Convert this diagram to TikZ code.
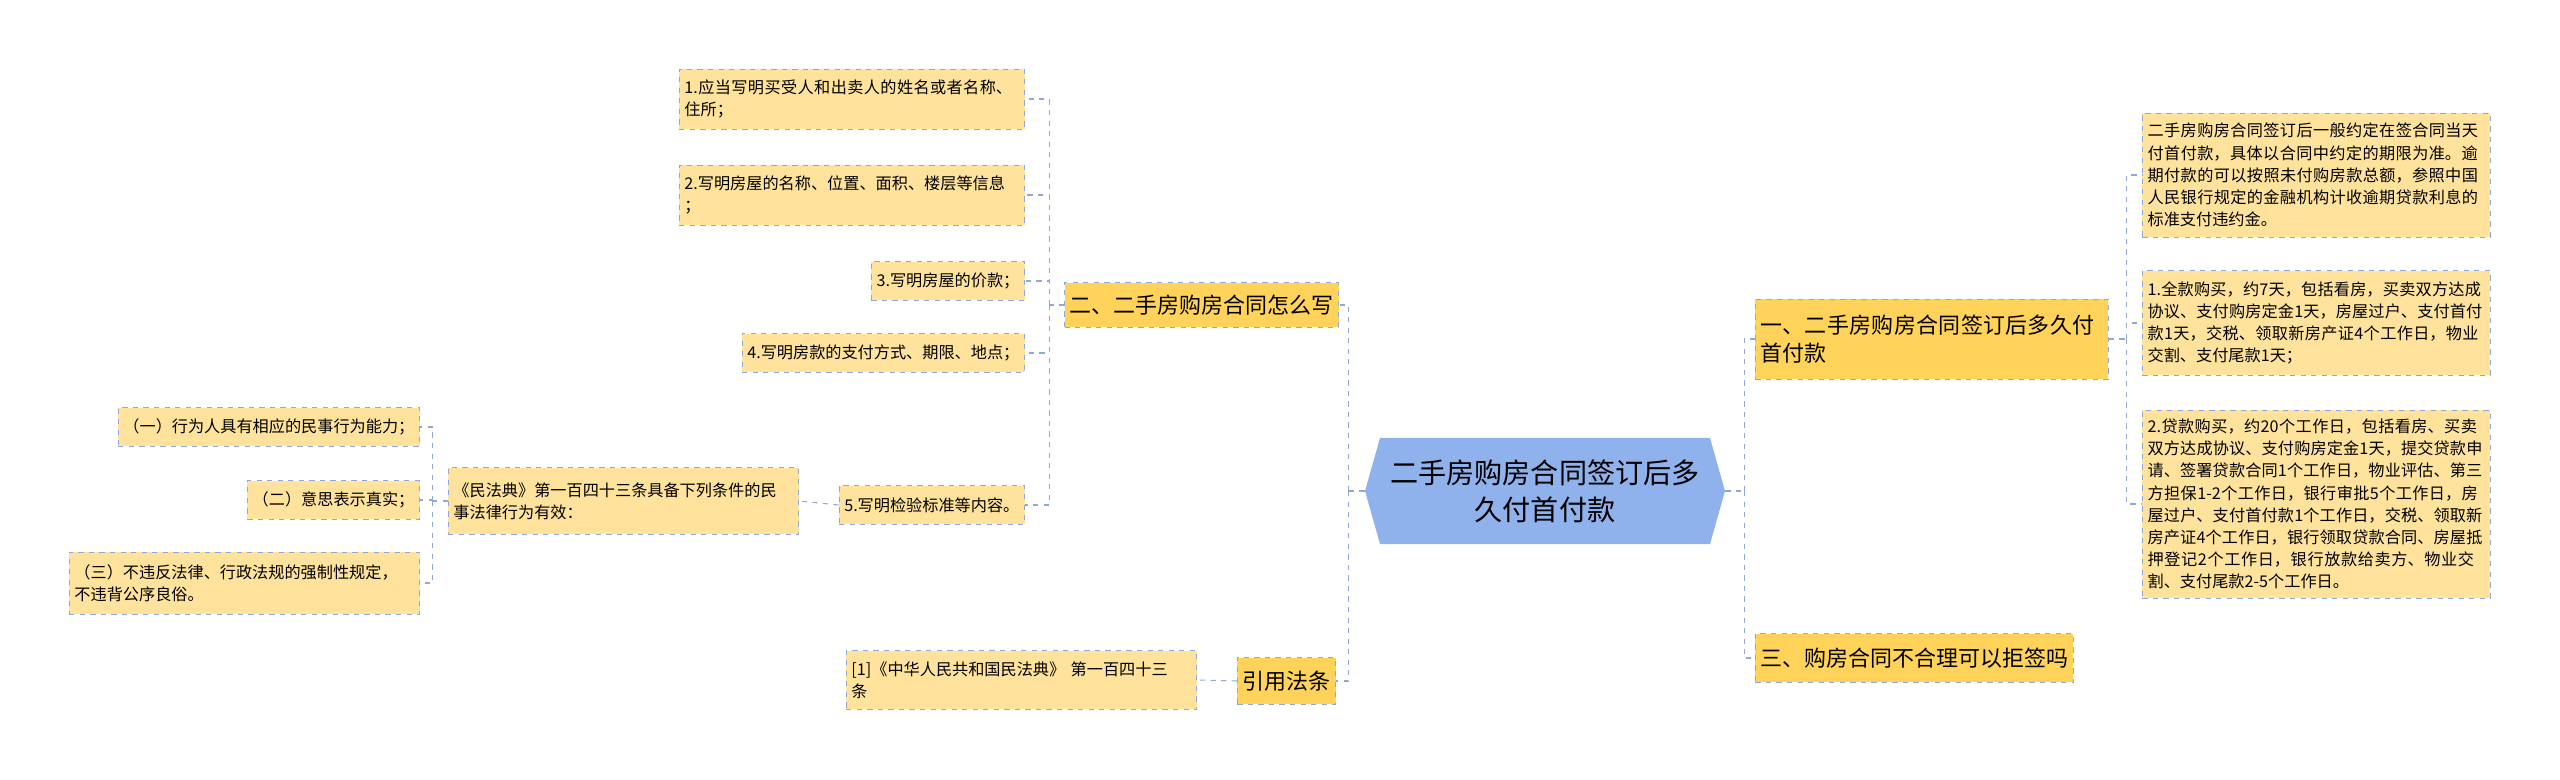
\documentclass[tikz,border=0pt]{standalone}
\usepackage{fontspec}
\setmainfont{Noto Sans CJK SC}
\XeTeXlinebreaklocale "zh"
\XeTeXlinebreakskip=0pt plus 1pt
\usetikzlibrary{positioning}
\definecolor{leaffill}{HTML}{FFE39C}
\definecolor{branchfill}{HTML}{FFD35A}
\definecolor{linkblue}{HTML}{8FA8D8}
\definecolor{rootfill}{HTML}{8FB2EC}
\tikzset{
leaf/.style={
  rectangle,dashed,
  draw=linkblue,
  fill=leaffill,
  inner xsep=3pt,
  font=\fontsize{9.2}{12.6}\selectfont,
  align=left
  },
branch/.style={
  leaf,
  fill=branchfill,
  font=\fontsize{12.5}{16}\selectfont
  },
link/.style={dashed,draw=linkblue,semithick}
}
\begin{document}
\begin{tikzpicture}[x=0.02cm,y=-0.02cm]
        \useasboundingbox (0,0) rectangle (2560,780);
        % root
        \node[minimum width=7.2cm,minimum height=2.12cm] at (1545,491) (root) {};
        \fill[rootfill] (1365,491) -- (1380,438) -- (1710,438) -- (1725,491) -- (1710,544) -- (1380,544) -- cycle;
        \node[align=center,font=\fontsize{16}{21}\selectfont] at (root) {二手房购房合同签订后多\\久付首付款};
        % right side
        \node[branch,text width=6.85cm,minimum height=1.6cm,anchor=west] at (1755,339) (b1) {一、二手房购房合同签订后多久付首付款};
        \node[branch,minimum height=0.98cm,anchor=west] at (1755,658) (b3) {三、购房合同不合理可以拒签吗};
        \node[leaf,text width=6.75cm,minimum height=2.48cm,anchor=west] at (2142,175) (r1) {二手房购房合同签订后一般约定在签合同当天付首付款，具体以合同中约定的期限为准。逾期付款的可以按照未付购房款总额，参照中国人民银行规定的金融机构计收逾期贷款利息的标准支付违约金。};
        \node[leaf,text width=6.75cm,minimum height=2.1cm,anchor=west] at (2142,323) (r2) {1.全款购买，约7天，包括看房，买卖双方达成协议、支付购房定金1天，房屋过户、支付首付款1天，交税、领取新房产证4个工作日，物业交割、支付尾款1天；};
        \node[leaf,text width=6.75cm,minimum height=3.76cm,anchor=west] at (2142,504) (r3) {2.贷款购买，约20个工作日，包括看房、买卖双方达成协议、支付购房定金1天，提交贷款申请、签署贷款合同1个工作日，物业评估、第三方担保1-2个工作日，银行审批5个工作日，房屋过户、支付首付款1个工作日，交税、领取新房产证4个工作日，银行领取贷款合同、房屋抵押登记2个工作日，银行放款给卖方、物业交割、支付尾款2-5个工作日。};
        % left side
        \node[branch,minimum height=0.9cm,anchor=east] at (1339,305) (b2) {二、二手房购房合同怎么写};
        \node[branch,minimum height=0.94cm,anchor=east] at (1336,681) (b4) {引用法条};
        \node[leaf,text width=6.7cm,minimum height=1.2cm,anchor=east] at (1025,99) (l1) {1.应当写明买受人和出卖人的姓名或者名称、住所；};
        \node[leaf,text width=6.7cm,minimum height=1.2cm,anchor=east] at (1025,195) (l2) {2.写明房屋的名称、位置、面积、楼层等信息\\；};
        \node[leaf,minimum height=0.78cm,anchor=east] at (1025,281) (l3) {3.写明房屋的价款；};
        \node[leaf,minimum height=0.78cm,anchor=east] at (1025,353) (l4) {4.写明房款的支付方式、期限、地点；};
        \node[leaf,minimum height=0.78cm,anchor=east] at (1025,505) (l5) {5.写明检验标准等内容。};
        \node[leaf,text width=6.8cm,minimum height=1.34cm,anchor=east] at (799,501) (law) {《民法典》第一百四十三条具备下列条件的民\\事法律行为有效：};
        \node[leaf,minimum height=0.78cm,anchor=east] at (420,427) (c1) {（一）行为人具有相应的民事行为能力；};
        \node[leaf,minimum height=0.78cm,anchor=east] at (420,500) (c2) {（二）意思表示真实；};
        \node[leaf,text width=6.8cm,minimum height=1.24cm,anchor=east] at (420,583) (c3) {（三）不违反法律、行政法规的强制性规定，\\不违背公序良俗。};
        \node[leaf,text width=6.8cm,minimum height=1.18cm,anchor=east] at (1197,680) (ref) {[1]《中华人民共和国民法典》 第一百四十三\\条};
        % connectors
        \draw[link] (root.east) -- ++(19,0) coordinate (jr);
        \draw[link] (jr) |- (b1.west);
        \draw[link] (jr) |- (b3.west);
        \draw[link] (root.west) -- ++(-16,0) coordinate (jl);
        \draw[link] (jl) |- (b2.east);
        \draw[link] (jl) |- (b4.east);
        \draw[link] (b1.east) -- ++(18,0) coordinate (j1);
        \foreach \n in {r1,r2,r3} \draw[link] (j1) |- (\n.west);
        \draw[link] (b2.west) -- ++(-15,0) coordinate (j2);
        \foreach \n in {l1,l2,l3,l4,l5} \draw[link] (j2) |- (\n.east);
        \draw[link] (l5.west) -- (law.east);
        \draw[link] (law.west) -- ++(-15,0) coordinate (j3);
        \foreach \n in {c1,c2,c3} \draw[link] (j3) |- (\n.east);
        \draw[link] (b4.west) -- (ref.east);
    \end{tikzpicture}
\end{document}
